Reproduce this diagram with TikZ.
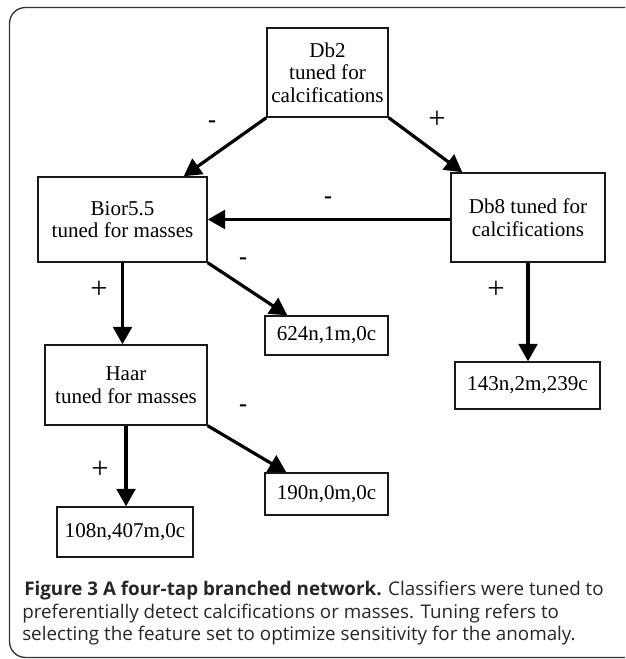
\documentclass[tikz,border=0pt]{standalone}
\usepackage{fontspec}
\setmainfont{Liberation Serif}
\newfontfamily\capfont{Open Sans}
\usetikzlibrary{arrows.meta,calc}
\begin{document}
\begin{tikzpicture}[x=0.75pt,y=-0.75pt,
  box/.style={draw=black!90,line width=1.1pt,inner sep=0pt,align=center,
    font=\fontsize{15.8}{17}\selectfont},
  wh/.style 2 args={minimum width=#1*0.75pt,minimum height=#2*0.75pt},
  conn/.style={line width=2.4pt,-{Triangle[length=13pt,width=14pt]}},
  plus/.style={font=\fontsize{23}{23}\selectfont,inner sep=0pt},
  minus/.style={font=\bfseries\fontsize{18}{18}\selectfont,inner sep=0pt},
  capline/.style={anchor=base west,inner sep=0pt,
    font=\capfont\fontsize{14.1}{16}\selectfont,text=black!85}]
\useasboundingbox (0,0) rectangle (625,659);
\draw[black!80,line width=1pt,rounded corners=12]
  (625,7.5) -- (9.5,7.5) -- (9.5,657.5) -- (625,657.5);

\node[box,wh={121}{89}] (db2) at (327.5,72.5) {Db2\\tuned for\\calcifications};
\node[box,wh={169}{85}] (bior) at (122.5,219.5) {Bior5.5\\tuned for masses};
\node[box,wh={154}{89}] (db8) at (528,217.5) {Db8 tuned for\\calcifications};
\node[box,wh={123}{39}] (n624) at (326.5,335.5) {624n,1m,0c};
\node[box,wh={162}{80}] (haar) at (126,385) {Haar\\tuned for masses};
\node[box,wh={145}{47}] (n143) at (527.5,385.5) {143n,2m,239c};
\node[box,wh={123}{42}] (n190) at (326.5,494) {190n,0m,0c};
\node[box,wh={136}{50}] (n108) at (125,532) {108n,407m,0c};

\draw[conn] (db2.south west) -- ($(bior.north east)+(-24,0)$);
\draw[conn] (db2.south east) -- ($(db8.north west)+(12,0)$);
\draw[conn] (db8.west |- bior.east) -- (bior.east);
\draw[conn] (bior.south east) -- ($(n624.north west)+(23,0)$);
\draw[conn] (bior.south) -- (bior.south |- haar.north);
\draw[conn] (db8.south) -- (db8.south |- n143.north);
\draw[conn] (haar.south) -- (haar.south |- n108.north);
\draw[conn] (haar.south east) -- ($(n190.north west)+(22,0)$);

\node[minus] (s1) at (212,124) {-};
\node[plus] (s2) at (437,120) {+};
\node[minus] (s3) at (328,200) {-};
\node[minus] (s4) at (243,261) {-};
\node[plus] (s5) at (99,290) {+};
\node[plus] (s6) at (496,290) {+};
\node[minus] (s7) at (243,408) {-};
\node[plus] (s8) at (100,470) {+};

\node[capline] (c1) at (24,595) {\textbf{Figure 3 A four-tap branched network.} Classifiers were tuned to};
\node[capline] (c2) at (22,618) {preferentially detect calcifications or masses. Tuning refers to};
\node[capline] (c3) at (22,640) {selecting the feature set to optimize sensitivity for the anomaly.};
\end{tikzpicture}
\end{document}
